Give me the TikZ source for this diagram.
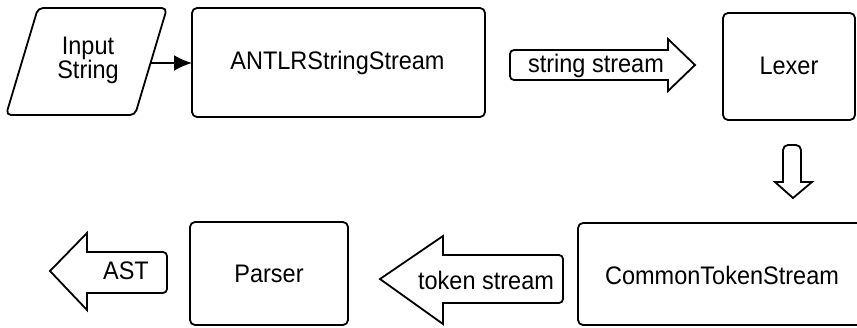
\documentclass[tikz,border=0pt]{standalone}
\usepackage{fontspec}
\setmainfont{Liberation Sans}
\usetikzlibrary{arrows.meta}
\newcommand{\tallt}[1]{\scalebox{1}[1.08]{#1}}
\begin{document}
\begin{tikzpicture}[x=1pt,y=-1pt,
  line width=1.8pt, line join=round,
  lbl/.style={font=\fontsize{23.5}{26}\selectfont, inner sep=0pt, align=center},
  stage/.style={draw, rounded corners=5pt},
  blockarrow/.style={draw, rounded corners=4pt}]
\useasboundingbox (0,0) rectangle (857,327);
% Input parallelogram
\draw[rounded corners=5pt] (38,8) -- (167,8) -- (135,115) -- (6,115) -- cycle;
\node[lbl] (input) at (88,60) {\tallt{Input}\\[-2pt]\tallt{String}};
\coordinate (inr) at (151,63);
% ANTLRStringStream
\draw[stage] (192,8) rectangle (485,117);
\node[lbl] (antlr) at (337.5,63) {\tallt{ANTLRStringStream}};
\coordinate (antlrw) at (192,63);
\draw[line width=2.2pt,-{Latex[length=18pt,width=16pt]}] (inr) -- (antlrw);
% string stream block arrow
\draw[line join=miter] (668,80) [rounded corners=4pt]-- (510,80) -- (510,50) [sharp corners]-- (668,50) -- (668,39) -- (695,65) -- (668,91) -- cycle;
\node[lbl] (ss) at (596,66) {\tallt{string stream}};
% Lexer
\draw[stage] (723,13) rectangle (855,120);
\node[lbl] (lexer) at (789,66) {\tallt{Lexer}};
% down arrow
\draw[line join=miter] (775,182) -- (783,182) [rounded corners=5pt]-- (783,145) -- (801,145) [sharp corners]-- (801,182) -- (812,182) -- (793,198) -- cycle;
% CommonTokenStream
\draw[stage] (578,223) rectangle (870,325);
\node[lbl] (cts) at (722,275) {\tallt{CommonTokenStream}};
% token stream block arrow
\draw[line join=miter] (443,255) [rounded corners=4pt]-- (563,255) -- (563,303) [sharp corners]-- (443,303) -- (443,324) -- (380,279) -- (443,236) -- cycle;
\node[lbl] (ts) at (486,280) {\tallt{token stream}};
% Parser
\draw[stage] (190,222) rectangle (348,325);
\node[lbl] (parser) at (269,274) {\tallt{Parser}};
% AST block arrow
\draw[line join=miter] (87,252) [rounded corners=4pt]-- (167,252) -- (167,293) [sharp corners]-- (87,293) -- (87,310) -- (50,271) -- (87,233) -- cycle;
\node[lbl] (ast) at (126,271) {\tallt{AST}};
\end{tikzpicture}
\end{document}
